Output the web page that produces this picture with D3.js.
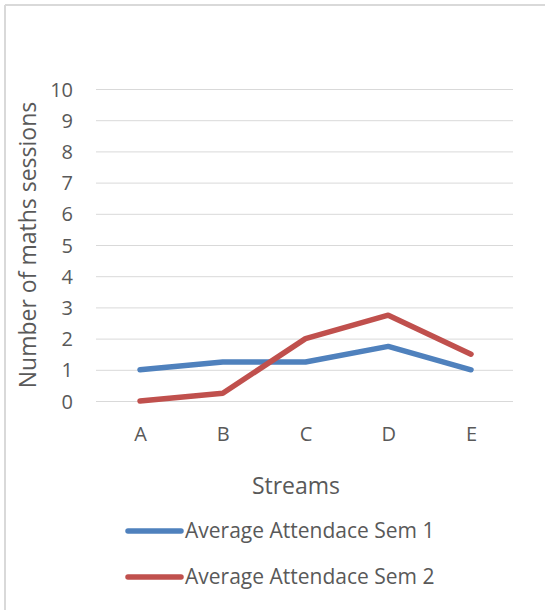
<!DOCTYPE html>
<html>
<head>
<meta charset="utf-8">
<script src="https://cdn.jsdelivr.net/npm/d3@7"></script>
<style>
  html, body { margin: 0; padding: 0; background: #fff; }
  svg { display: block; }
  text { font-family: "Open Sans", "Noto Sans", sans-serif; fill: #595959; }
</style>
</head>
<body>
<svg id="chart" width="545" height="610"></svg>
<script>
const categories = ["A", "B", "C", "D", "E"];
const sem1 = [1, 1.25, 1.25, 1.75, 1];
const sem2 = [0, 0.25, 2, 2.75, 1.5];
const yTicks = [0, 1, 2, 3, 4, 5, 6, 7, 8, 9, 10];
const seriesNames = ["Average Attendace Sem 1", "Average Attendace Sem 2"];
const seriesColors = ["#4f81bd", "#c0504d"];

const svg = d3.select("#chart");

// chart frame (left and top edges visible)
svg.append("line").attr("x1", 5).attr("x2", 5).attr("y1", 5).attr("y2", 610)
  .attr("stroke", "#d9d9d9").attr("stroke-width", 2);
svg.append("line").attr("x1", 5).attr("x2", 545).attr("y1", 5).attr("y2", 5)
  .attr("stroke", "#d9d9d9").attr("stroke-width", 2);

const x = d3.scalePoint().domain(categories).range([140, 471]);
const y = d3.scaleLinear().domain([0, 10]).range([401, 89]);

// horizontal gridlines
const grid = svg.append("g").attr("transform", "translate(96,0)")
  .call(d3.axisLeft(y).tickValues(yTicks).tickSize(-417).tickFormat(""));
grid.select(".domain").remove();
grid.selectAll(".tick line").attr("stroke", "#d9d9d9").attr("stroke-width", 1);

// y tick labels
const yAxis = svg.append("g").attr("transform", "translate(73,0)")
  .call(d3.axisLeft(y).tickValues(yTicks).tickSize(0).tickPadding(0));
yAxis.select(".domain").remove();
yAxis.selectAll("text").attr("font-size", 20).style("fill", "#595959")
  .attr("font-family", '"Open Sans", sans-serif').attr("dy", "0.35em");

// x category labels
const xAxis = svg.append("g").attr("transform", "translate(0,427)")
  .call(d3.axisBottom(x).tickSize(0).tickPadding(0));
xAxis.select(".domain").remove();
xAxis.selectAll("text").attr("font-size", 20).style("fill", "#595959")
  .attr("font-family", '"Open Sans", sans-serif').attr("dy", "0.71em");

// axis titles
svg.append("text").attr("x", 296).attr("y", 494).attr("text-anchor", "middle")
  .attr("font-size", 23).text("Streams");
svg.append("text").attr("transform", "translate(36,245) rotate(-90)")
  .attr("text-anchor", "middle").attr("font-size", 23)
  .text("Number of maths sessions");

// series lines
const line = d3.line().x((d, i) => x(categories[i])).y(d => y(d));
[sem1, sem2].forEach((vals, k) => {
  svg.append("path").datum(vals).attr("d", line)
    .attr("fill", "none").attr("stroke", seriesColors[k])
    .attr("stroke-width", 5.5).attr("stroke-linecap", "round")
    .attr("stroke-linejoin", "round");
});

// legend
seriesNames.forEach((name, k) => {
  const ly = 531 + k * 46;
  svg.append("line").attr("x1", 128).attr("x2", 181).attr("y1", ly).attr("y2", ly)
    .attr("stroke", seriesColors[k]).attr("stroke-width", 5.5).attr("stroke-linecap", "round");
  svg.append("text").attr("x", 185).attr("y", ly).attr("dy", "0.35em")
    .attr("font-size", 21).text(name);
});
</script>
</body>
</html>
